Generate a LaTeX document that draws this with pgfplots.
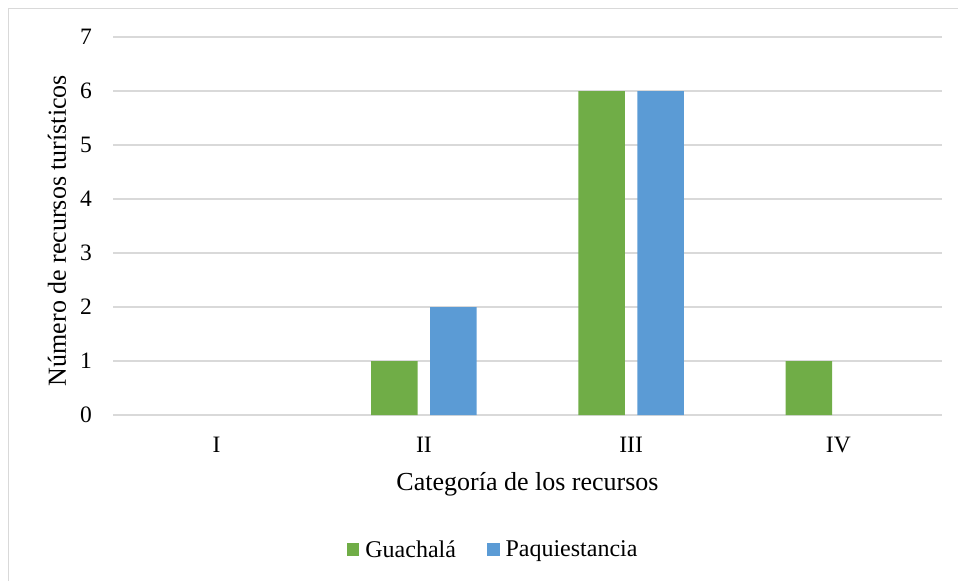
\documentclass[border=0pt]{standalone}
\usepackage{fontspec}
\setmainfont{Liberation Serif}
\usepackage{pgfplots}
\pgfplotsset{compat=1.18}
\definecolor{gA}{RGB}{112,173,71}
\definecolor{bB}{RGB}{91,155,213}
\definecolor{gridc}{RGB}{217,217,217}
\begin{document}
\begin{tikzpicture}[x=1pt,y=1pt]
\useasboundingbox (0,0) rectangle (958,581);
\draw[gridc, line width=1.2pt] (8.5,0) -- (8.5,572.5) -- (958,572.5);
\begin{axis}[
  at={(113pt,166pt)}, anchor=south west,
  scale only axis, width=829pt, height=378pt,
  xmin=-0.5, xmax=3.5, ymin=0, ymax=7,
  xtick={0,1,2,3}, xticklabels={I,II,III,IV},
  ytick={0,1,...,7},
  /pgf/number format/assume math mode=true,
  axis line style={draw=none},
  major tick length=0pt,
  ymajorgrids, grid style={gridc, line width=1.2pt},
  ticklabel style={font=\fontsize{23.5}{28}\selectfont, inner sep=0pt},
  y tick label style={anchor=east, xshift=-21pt},
  x tick label style={anchor=base, yshift=-37pt},
  xlabel={Categoría de los recursos},
  ylabel={Número de recursos turísticos},
  label style={font=\fontsize{26}{30}\selectfont, inner sep=0pt},
  xlabel style={at={(axis description cs:0.5,0)}, anchor=base, yshift=-75pt},
  ylabel style={at={(axis description cs:-0.0567,0.488)}, anchor=base, rotate=0},
  ybar, bar width=46.5pt,
  legend columns=2,
  legend style={at={(axis description cs:0.2819,-0.3558)}, anchor=west, draw=none,
    font=\fontsize{24}{28}\selectfont, inner sep=0pt,
    /tikz/every odd column/.append style={column sep=6pt},
    /tikz/every even column/.append style={column sep=31pt},
    nodes={inner sep=0pt}},
  legend image code/.code={\fill[#1] (0pt,-6.25pt) rectangle (12.5pt,6.25pt);},
]
\addplot[fill=gA, draw=none, bar shift=-29.4pt] coordinates {(1,1) (2,6) (3,1)};
\addplot[fill=bB, draw=none, bar shift=29.4pt] coordinates {(1,2) (2,6)};
\legend{Guachalá, Paquiestancia}
\end{axis}
\end{tikzpicture}
\end{document}
